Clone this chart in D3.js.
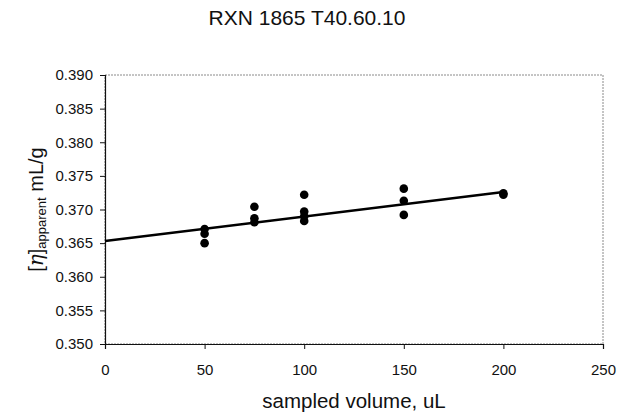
<!DOCTYPE html>
<html>
<head>
<meta charset="utf-8">
<script src="https://d3js.org/d3.v7.min.js"></script>
<style>
  body { margin: 0; background: #fff; }
  text { font-family: "Liberation Sans", Arial, sans-serif; fill: #111; }
</style>
</head>
<body>
<div id="chartHere"></div>
<script>
  // sampled volume (uL) for each measurement
  var volumes = [50, 50, 50, 75, 75, 75, 100, 100, 100, 100, 150, 150, 150, 200, 200];
  // apparent intrinsic viscosity, mL/g
  var viscosity = [0.3671, 0.3664, 0.3650, 0.3704, 0.3687, 0.3681,
                   0.3722, 0.3697, 0.3690, 0.3683, 0.3731, 0.3713, 0.3692, 0.3724, 0.3722];
  // trend line end points
  var trendX = [0, 200];
  var trendY = [0.3653, 0.3726];

  var xTicks = [0, 50, 100, 150, 200, 250];
  var yTicks = [0.350, 0.355, 0.360, 0.365, 0.370, 0.375, 0.380, 0.385, 0.390];

  var dims = {width: 619, height: 415};
  var margin = {top: 75, right: 16, bottom: 71, left: 105};

  var svg = d3.select("#chartHere").append("svg")
      .attr("width", dims.width)
      .attr("height", dims.height);

  var xScale = d3.scaleLinear().domain([0, 250])
      .range([margin.left, dims.width - margin.right]);
  var yScale = d3.scaleLinear().domain([0.350, 0.390])
      .range([dims.height - margin.bottom, margin.top]);

  // title
  svg.append("text")
     .text("RXN 1865 T40.60.10")
     .attr("x", 307).attr("y", 25)
     .attr("text-anchor", "middle")
     .attr("font-size", 21);

  // scanned-looking frame on top / right
  svg.append("rect")
     .attr("x", xScale(0)).attr("y", yScale(0.390))
     .attr("width", xScale(250) - xScale(0))
     .attr("height", yScale(0.350) - yScale(0.390))
     .attr("fill", "none")
     .attr("stroke", "#8a8a8a")
     .attr("stroke-width", 1)
     .attr("stroke-dasharray", "2,1");

  var xAxis = d3.axisBottom(xScale).tickValues(xTicks).tickSize(5).tickPadding(15)
      .tickFormat(d3.format("d"));
  var yAxis = d3.axisLeft(yScale).tickValues(yTicks).tickSize(5).tickPadding(7)
      .tickFormat(d3.format(".3f"));

  var gx = svg.append("g")
     .attr("transform", "translate(0," + yScale(0.350) + ")")
     .call(xAxis);
  var gy = svg.append("g")
     .attr("transform", "translate(" + xScale(0) + ",0)")
     .call(yAxis);

  [gx, gy].forEach(function (g) {
    g.selectAll("text").attr("font-size", 15).attr("font-family", '"Liberation Sans", Arial, sans-serif').attr("fill", "#111");
    g.selectAll("line").attr("stroke", "#111");
    g.select(".domain").attr("stroke", "#111").attr("stroke-width", 1.2);
  });

  // trend line
  var line = d3.line()
      .x(function (d) { return xScale(d[0]); })
      .y(function (d) { return yScale(d[1]); });
  svg.append("path")
     .datum(d3.zip(trendX, trendY))
     .attr("d", line)
     .attr("fill", "none")
     .attr("stroke", "#000")
     .attr("stroke-width", 2.5);

  // data points
  svg.selectAll("circle.pt")
     .data(d3.zip(volumes, viscosity))
     .enter().append("circle")
     .attr("class", "pt")
     .attr("cx", function (d) { return xScale(d[0]); })
     .attr("cy", function (d) { return yScale(d[1]); })
     .attr("r", 4.3)
     .attr("fill", "#000");

  // x axis title
  svg.append("text")
     .text("sampled volume, uL")
     .attr("x", (xScale(0) + xScale(250)) / 2)
     .attr("y", 408)
     .attr("text-anchor", "middle")
     .attr("font-size", 20.5);

  // y axis title  [η]apparent mL/g
  var yl = svg.append("text")
     .attr("transform", "translate(43," + ((yScale(0.350) + yScale(0.390)) / 2) + ") rotate(-90)")
     .attr("text-anchor", "middle")
     .attr("font-size", 20);
  yl.append("tspan").text("[");
  yl.append("tspan").text("\u03b7").attr("font-style", "italic").attr("font-family", "'DejaVu Serif', serif");
  yl.append("tspan").text("]");
  yl.append("tspan").text("apparent").attr("font-size", 13).attr("dy", 3);
  yl.append("tspan").text(" mL/g").attr("dy", -3);
</script>
</body>
</html>
